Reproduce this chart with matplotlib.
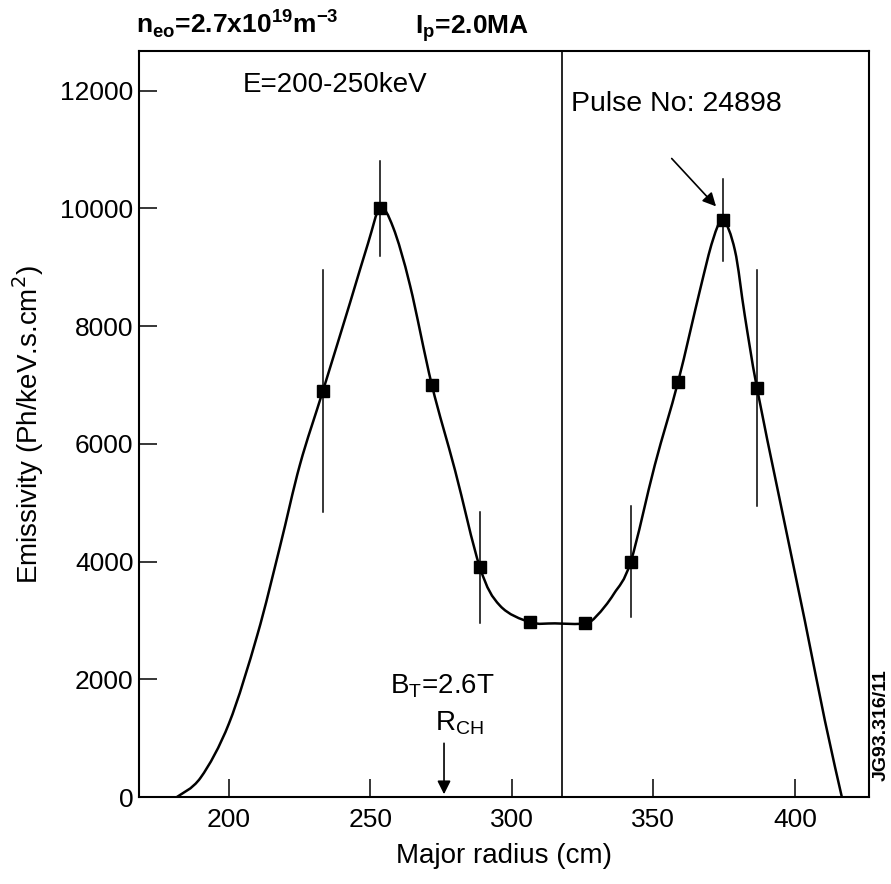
import numpy as np
import matplotlib
matplotlib.use("Agg")
import matplotlib.pyplot as plt
from matplotlib.path import Path
from matplotlib.patches import PathPatch

plt.rcParams['font.family'] = ['Liberation Sans', 'DejaVu Sans']

# measured points
radius = [233.2, 253.4, 271.7, 288.7, 306.4, 325.8, 342.0, 358.7, 374.6, 386.6]
emiss = [6900, 10000, 7000, 3900, 2970, 2950, 4000, 7050, 9800, 6950]
err = [2050, 800, 0, 950, 0, 0, 950, 0, 700, 2000]

# fitted curve
curve_r = [181.6, 190.0, 200.0, 210.0, 218.0, 225.1, 233.2, 242.8, 249.1,
           253.4, 258.0, 264.0, 271.7, 279.9, 288.7, 295.8, 306.4, 315.2,
           325.8, 330.0, 336.0, 342.0, 350.5, 358.7, 366.4, 371.0, 374.6, 378.8, 382.3,
           386.6, 394.7, 403.5, 410.6, 416.6]
curve_e = [0, 330, 1250, 2750, 4250, 5650, 6900, 8400, 9400,
           10000, 9680, 8690, 7000, 5550, 3900, 3250, 2970, 2950,
           2950, 3080, 3450, 4000, 5640, 7050, 8600, 9460, 9800, 9290, 8180,
           6950, 5040, 3000, 1300, 0]

xticks = [200, 250, 300, 350, 400]
yticks = [0, 2000, 4000, 6000, 8000, 10000, 12000]

fig = plt.figure(figsize=(8.91, 8.84), dpi=100)
ax = fig.add_axes([0.156, 0.0984, 0.819, 0.8436])
ax.set_xlim(168.2, 426.1)
ax.set_ylim(0, 12670)

# smooth curve via Catmull-Rom -> cubic Bezier path
pts = np.column_stack([curve_r, curve_e]).astype(float)
verts = [tuple(pts[0])]
codes = [Path.MOVETO]
n = len(pts)
for i in range(n - 1):
    p0 = pts[max(i - 1, 0)]
    p1 = pts[i]
    p2 = pts[i + 1]
    p3 = pts[min(i + 2, n - 1)]
    c1 = p1 + (p2 - p0) / 6.0
    c2 = p2 - (p3 - p1) / 6.0
    verts += [tuple(c1), tuple(c2), tuple(p2)]
    codes += [Path.CURVE4] * 3
ax.add_patch(PathPatch(Path(verts, codes), facecolor='none', edgecolor='black', lw=1.8, zorder=3))

for r, e, s in zip(radius, emiss, err):
    if s > 0:
        ax.plot([r, r], [e - s, e + s], color='black', lw=1.1, zorder=2)
ax.plot(radius, emiss, 's', color='black', markersize=8.5, zorder=4)

ax.axvline(317.7, color='black', lw=1.2)

ax.set_xticks(xticks)
ax.set_yticks(yticks)
ax.tick_params(direction='in', labelsize=19, length=13, width=1.1, pad=4)
ax.tick_params(axis='x', pad=8)
for sp in ax.spines.values():
    sp.set_linewidth(1.5)

ax.set_xlabel('Major radius (cm)', fontsize=20, labelpad=8)
ax.set_ylabel('Emissivity (Ph/keV.s.cm$^2$)', fontsize=20, labelpad=10)

fig.text(0.153, 0.962, r'n$_{\mathregular{eo}}$=2.7x10$^{\mathregular{19}}$m$^{\mathregular{-3}}$',
         fontsize=19, fontweight='bold', ha='left', va='baseline')
fig.text(0.466, 0.962, r'I$_{\mathregular{p}}$=2.0MA', fontsize=19, fontweight='bold',
         ha='left', va='baseline')

ax.text(237.5, 12105, 'E=200-250keV', fontsize=20, ha='center', va='center')
ax.text(321.0, 11780, 'Pulse No: 24898', fontsize=20.5, ha='left', va='center')
ax.annotate('', xy=(372.8, 10000), xytext=(355.8, 10883),
            arrowprops=dict(arrowstyle='-|>', color='black', lw=1.2, mutation_scale=20))

ax.text(275.3, 1885, r'B$_{\mathregular{T}}$=2.6T', fontsize=20, ha='center', va='center')
ax.text(272.8, 1250, r'R$_{\mathregular{CH}}$', fontsize=20, ha='left', va='center')
ax.annotate('', xy=(276.0, 0), xytext=(276.0, 960),
            arrowprops=dict(arrowstyle='-|>', color='black', lw=1.2, mutation_scale=20))

fig.text(0.989, 0.18, 'JG93.316/11', fontsize=14, fontweight='bold', rotation=90,
         ha='center', va='center')

fig.savefig('out.png', dpi=100)
